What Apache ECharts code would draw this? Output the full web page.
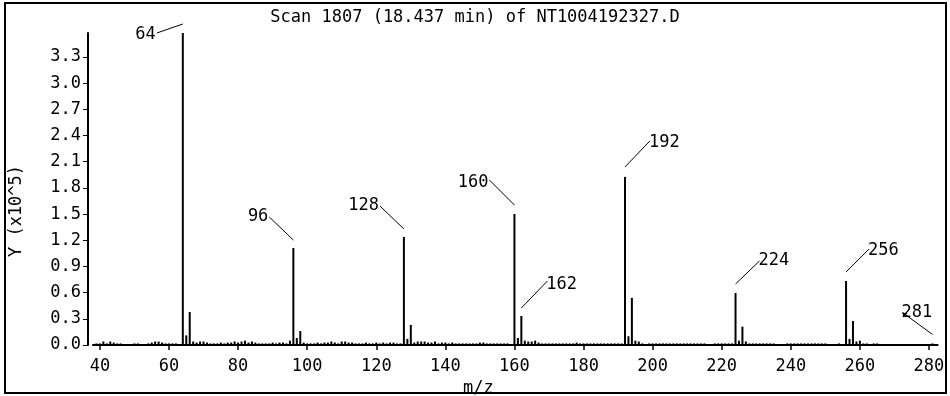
<!DOCTYPE html>
<html>
<head>
<meta charset="utf-8">
<script src="https://cdn.jsdelivr.net/npm/echarts@6/dist/echarts.min.js"></script>
<style>html,body{margin:0;padding:0;background:#fff}#c{width:950px;height:396px}</style>
</head>
<body>
<div id="c"></div>
<script>
// ---- data ----
const titleText = 'Scan 1807 (18.437 min) of NT1004192327.D';
const xName = 'm/z';
const yName = 'Y (x10^5)';
const xTicks = [40, 60, 80, 100, 120, 140, 160, 180, 200, 220, 240, 260, 280];
const yTicks = [0, 0.3, 0.6, 0.9, 1.2, 1.5, 1.8, 2.1, 2.4, 2.7, 3.0, 3.3];

const majorMz  = [64, 65, 66, 96, 97, 98, 128, 129, 130, 160, 161, 162, 163, 192, 193, 194, 224, 225, 226, 256, 257, 258, 281];
const majorVal = [3.575, 0.11, 0.378, 1.111, 0.08, 0.16, 1.238, 0.07, 0.23, 1.501, 0.08, 0.332, 0.05, 1.926, 0.1, 0.54, 0.596, 0.05, 0.21, 0.733, 0.07, 0.275, 0.018];

const minorPeaks = [
  [39,0.018],[40,0.018],[41,0.04],[42,0.018],[43,0.04],[44,0.028],[45,0.018],[46,0.018],
  [50,0.018],[51,0.018],[54,0.018],[55,0.028],[56,0.04],[57,0.04],[58,0.028],[59,0.018],[60,0.018],[61,0.018],[62,0.018],
  [67,0.04],[68,0.028],[69,0.04],[70,0.04],[71,0.028],[72,0.018],[73,0.018],[74,0.018],[75,0.028],[76,0.018],
  [77,0.028],[78,0.028],[79,0.04],[80,0.028],[81,0.04],[82,0.05],[83,0.028],[84,0.04],[85,0.028],[86,0.018],
  [87,0.018],[88,0.018],[89,0.018],[90,0.028],[91,0.018],[92,0.028],[93,0.028],[94,0.018],[95,0.05],
  [99,0.028],[100,0.018],[101,0.018],[102,0.018],[103,0.028],[104,0.018],[105,0.028],[106,0.028],[107,0.04],
  [108,0.028],[109,0.018],[110,0.04],[111,0.04],[112,0.028],[113,0.028],[114,0.018],[115,0.018],[116,0.018],
  [117,0.028],[118,0.018],[119,0.018],[120,0.028],[121,0.018],[122,0.028],[123,0.018],[124,0.028],[125,0.028],
  [126,0.018],[127,0.018],
  [131,0.028],[132,0.04],[133,0.04],[134,0.04],[135,0.028],[136,0.028],[137,0.04],[138,0.018],[139,0.028],
  [140,0.028],[141,0.018],[142,0.028],[143,0.018],[144,0.018],[145,0.018],[146,0.018],[147,0.018],[148,0.018],
  [149,0.018],[150,0.028],[151,0.028],[152,0.018],[153,0.018],[154,0.018],[155,0.018],[156,0.018],[157,0.018],
  [158,0.018],
  [164,0.04],[165,0.04],[166,0.05],[167,0.028],[168,0.018],[169,0.018],[170,0.018],[171,0.018],[172,0.018],
  [173,0.018],[174,0.018],[175,0.018],[176,0.018],[177,0.018],[178,0.028],[179,0.018],[180,0.018],[181,0.018],
  [182,0.018],[183,0.018],[184,0.018],[185,0.018],[186,0.018],[187,0.018],[188,0.018],[189,0.018],[190,0.018],
  [191,0.018],
  [195,0.05],[196,0.04],[197,0.018],[199,0.018],[200,0.018],[201,0.018],[202,0.018],[203,0.018],[204,0.018],
  [205,0.018],[206,0.018],[207,0.018],[208,0.018],[209,0.018],[210,0.018],[211,0.018],[212,0.018],[213,0.018],
  [214,0.018],[215,0.018],[218,0.018],[219,0.018],[220,0.018],[221,0.018],[222,0.018],[223,0.018],
  [227,0.04],[228,0.018],[229,0.018],[230,0.018],[231,0.018],[232,0.018],[233,0.018],[234,0.018],[235,0.018],
  [239,0.018],[240,0.018],[241,0.018],[242,0.018],[243,0.018],[244,0.018],[245,0.018],[246,0.018],[247,0.018],
  [248,0.018],[249,0.018],[250,0.018],[254,0.018],
  [259,0.04],[260,0.05],[261,0.018],[262,0.018],[264,0.018],[265,0.018]
];

const labeledMz = [64, 96, 128, 160, 162, 192, 224, 256, 281];

// ---- annotation layout (pixel offsets, not data) ----
const annotLayout = [
  {gap: 9,  dx: -26, dy: 9,   ty: 1.5, side: 'left'},
  {gap: 8,  dx: -24, dy: -23, ty: 0,   side: 'left'},
  {gap: 8,  dx: -24, dy: -23, ty: 0,   side: 'left'},
  {gap: 9,  dx: -25, dy: -25, ty: 3,   side: 'left'},
  {gap: 8,  dx: 26,  dy: -27, ty: 4,   side: 'right'},
  {gap: 10, dx: 25,  dy: -26, ty: 2,   side: 'right'},
  {gap: 9,  dx: 24,  dy: -23, ty: 0,   side: 'right'},
  {gap: 9,  dx: 23,  dy: -23, ty: 1.5, side: 'right'},
  {gap: 9,  dx: -30, dy: -22, ty: 0,   side: 'right', arrow: true}
];

const FONT = 'DejaVu Sans Mono';
const FS = 17;

const spectrum = minorPeaks.concat(majorMz.map((m, i) => [m, majorVal[i]]));
const labeledData = labeledMz.map(m => [m, majorVal[majorMz.indexOf(m)]]);

const chart = echarts.init(document.getElementById('c'), null, {renderer: 'canvas'});
chart.setOption({
  animation: false,
  backgroundColor: '#ffffff',
  title: {
    text: titleText,
    left: 'center',
    top: 9,
    padding: [0, 0, 0, 18],
    textStyle: {fontFamily: FONT, fontSize: FS, fontWeight: 'normal', color: '#000'}
  },
  graphic: [{
    type: 'rect', silent: true,
    shape: {x: 5, y: 3, width: 941, height: 390},
    style: {fill: null, stroke: '#000', lineWidth: 2}
  }],
  grid: {left: 93, right: 12.4, top: 33, bottom: 51, outerBoundsMode: 'none', containLabel: false},
  xAxis: {
    type: 'value', min: 38, max: 282.5, offset: 6,
    name: xName, nameLocation: 'middle', nameGap: 29,
    nameTextStyle: {fontFamily: FONT, fontSize: FS, color: '#000', padding: [0, 74, 0, 0]},
    axisLine: {show: true, lineStyle: {color: '#000', width: 2}},
    axisTick: {show: true, length: 5, lineStyle: {color: '#000', width: 1.5}, customValues: xTicks},
    axisLabel: {fontFamily: FONT, fontSize: FS, color: '#000', margin: 7, customValues: xTicks},
    splitLine: {show: false}
  },
  yAxis: {
    type: 'value', min: 0, max: 3.575, offset: 5,
    name: yName, nameLocation: 'middle', nameGap: 63,
    nameTextStyle: {fontFamily: FONT, fontSize: FS, color: '#000', padding: [0, 44, 0, 0]},
    axisLine: {show: true, lineStyle: {color: '#000', width: 2}},
    axisTick: {show: true, length: 5, lineStyle: {color: '#000', width: 1}, customValues: yTicks},
    axisLabel: {fontFamily: FONT, fontSize: FS, color: '#000', margin: 7, customValues: yTicks,
      formatter: v => v.toFixed(1)},
    splitLine: {show: false}
  },
  series: [{
    type: 'bar',
    data: spectrum,
    barWidth: 2,
    barMinHeight: 1,
    itemStyle: {color: '#000'},
    silent: true
  }, {
    type: 'custom',
    data: labeledData,
    silent: true,
    clip: false,
    renderItem: function (params, api) {
      const L = annotLayout[params.dataIndex];
      const p = api.coord([api.value(0), api.value(1)]);
      const x0 = p[0], y0 = p[1] - L.gap;
      const x1 = x0 + L.dx, y1 = y0 + L.dy;
      const children = [{
        type: 'line',
        shape: {x1: x0, y1: y0, x2: x1, y2: y1},
        style: {stroke: '#000', lineWidth: 1}
      }, {
        type: 'text',
        style: {
          text: String(api.value(0)),
          x: x1 - 1,
          y: y1 + L.ty,
          align: L.side === 'left' ? 'right' : 'left',
          verticalAlign: 'middle',
          font: FS + 'px "' + FONT + '"',
          fill: '#000'
        }
      }];
      if (L.arrow) {
        children.push({
          type: 'polygon',
          shape: {points: [[x1, y1], [x1 + 5, y1 + 1], [x1 + 1, y1 + 5]]},
          style: {fill: '#000'}
        });
      }
      return {type: 'group', children: children};
    }
  }]
});
</script>
</body>
</html>
